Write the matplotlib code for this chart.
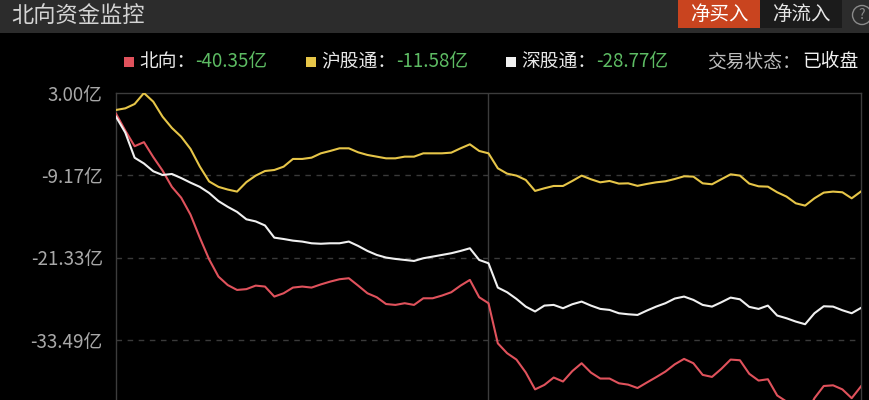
import matplotlib
matplotlib.use("Agg")
import matplotlib.pyplot as plt
from matplotlib.patches import Rectangle, Ellipse

plt.rcParams["font.family"] = ["Noto Sans CJK SC", "DejaVu Sans"]

W, H = 870, 400

# minutes since 9:30 on a 240-minute trading clock, sampled every 3 minutes
minutes = list(range(0, 241, 3))

# 沪股通 (yellow), 亿元
hgt = [0.45, 0.69, 1.33, 2.95, 1.68, -0.54, -2.2, -3.5, -5.3, -7.9,
       -10.1, -10.9, -11.3, -11.6, -10.2, -9.24, -8.56, -8.41, -7.92, -6.78,
       -6.78, -6.59, -5.95, -5.60, -5.21, -5.21, -5.80, -6.19, -6.44, -6.69,
       -6.69, -6.44, -6.44, -5.95, -5.95, -5.95, -5.85, -5.21, -4.62, -5.60,
       -5.95, -8.16, -8.95, -9.24, -9.88, -11.5, -11.11, -10.77, -10.77, -10.03,
       -9.24, -9.78, -10.23, -10.03, -10.42, -10.38, -10.75, -10.47, -10.23, -10.08,
       -9.74, -9.34, -9.39, -10.38, -10.52, -9.78, -9.05, -9.24, -10.42, -10.82,
       -10.87, -11.7, -12.34, -13.33, -13.67, -12.59, -11.75, -11.6, -11.7, -12.59,
       -11.58]

# 深股通 (white)
sgt = [-0.54, -2.9, -6.6, -7.45, -8.6, -9.15, -9.0, -9.6, -10.28, -10.9,
       -11.8, -13.0, -13.85, -14.6, -15.69, -16.0, -16.6, -18.4, -18.6, -18.84,
       -18.98, -19.23, -19.3, -19.23, -19.23, -18.98, -19.62, -20.36, -20.95, -21.34,
       -21.54, -21.69, -21.84, -21.44, -21.2, -20.95, -20.7, -20.36, -19.97, -21.69,
       -22.18, -25.77, -26.46, -27.44, -28.58, -29.3, -28.43, -28.33, -28.82, -28.23,
       -27.84, -28.43, -28.92, -29.07, -29.56, -29.71, -29.81, -29.17, -28.58, -28.08,
       -27.39, -27.1, -27.59, -28.33, -28.58, -27.94, -27.25, -27.5, -28.62, -28.92,
       -28.43, -29.9, -30.3, -30.79, -31.18, -29.56, -28.53, -28.58, -29.12, -29.56,
       -28.77]

# 北向 (red)
north = [-0.1, -2.6, -4.9, -4.3, -6.5, -8.5, -10.9, -12.5, -15.0, -18.4,
         -21.6, -24.15, -25.4, -26.12, -26.0, -25.48, -25.62, -27.1, -26.61, -25.77,
         -25.62, -25.77, -25.3, -24.89, -24.54, -24.39, -25.48, -26.61, -27.2, -28.2,
         -28.33, -28.08, -28.33, -27.35, -27.35, -26.95, -26.46, -25.48, -24.64, -27.2,
         -28.08, -34.0, -35.46, -36.4, -38.3, -40.8, -40.14, -39.05, -39.64, -38.1,
         -36.94, -38.32, -39.2, -39.2, -39.9, -40.1, -40.6, -39.79, -39.0, -38.17,
         -37.1, -36.3, -36.94, -38.66, -38.96, -37.77, -36.4, -36.5, -38.5, -39.5,
         -39.3, -41.7, -42.6, -44.0, -44.8, -42.1, -40.3, -40.2, -40.8, -42.1,
         -40.35]

yticks = [3.00, -9.17, -21.33, -33.49]
ytick_labels = ["3.00亿", "-9.17亿", "-21.33亿", "-33.49亿"]
y_bottom = -45.66  # next tick step, below the visible area

legend_names = ["北向：", "沪股通：", "深股通："]
legend_values = ["-40.35亿", "-11.58亿", "-28.77亿"]

RED = "#e0525c"
YELLOW = "#e6c548"
WHITE = "#f0f0f0"
GREEN = "#5dbb63"


def fx(x):
    return x / W


def fy(y):
    return 1 - y / H


fig = plt.figure(figsize=(W / 100, H / 100), dpi=100, facecolor="#000000")

# header bar
fig.patches.append(Rectangle((0, fy(33)), 1, 33 / H, transform=fig.transFigure,
                             facecolor="#2c2c2c", edgecolor="none", zorder=0))
fig.text(fx(11), fy(16), "北向资金监控", color="#d4d4d4", fontsize=16,
         va="center", ha="left")

# buttons
fig.patches.append(Rectangle((fx(678), fy(28)), 82 / W, 28 / H, transform=fig.transFigure,
                             facecolor="#c9441f", edgecolor="none", zorder=1))
fig.text(fx(719), fy(14), "净买入", color="#ffffff", fontsize=14, ha="center", va="center")
fig.patches.append(Rectangle((fx(760), fy(28)), 82 / W, 28 / H, transform=fig.transFigure,
                             facecolor="#1b1b1b", edgecolor="none", zorder=1))
fig.text(fx(801), fy(14), "净流入", color="#e6e6e6", fontsize=14, ha="center", va="center")
fig.patches.append(Ellipse((fx(862), fy(15)), 19 / W, 19 / H, transform=fig.transFigure,
                           facecolor="none", edgecolor="#8a8a8a", lw=1, zorder=1))
fig.text(fx(862), fy(15), "?", color="#8a8a8a", fontsize=10, ha="center", va="center")

# legend row
renderer = fig.canvas.get_renderer()
legend_x = [124, 306, 506]
for x0, color, name, val in zip(legend_x, [RED, YELLOW, WHITE], legend_names, legend_values):
    fig.patches.append(Rectangle((fx(x0), fy(67)), 10 / W, 10 / H, transform=fig.transFigure,
                                 facecolor=color, edgecolor="none"))
    t = fig.text(fx(x0 + 15), fy(62), name, color="#e8e8e8", fontsize=13.5,
                 ha="left", va="center")
    bb = t.get_window_extent(renderer)
    fig.text(bb.x1 / W, fy(62), val, color=GREEN, fontsize=13.5, ha="left", va="center")

t = fig.text(fx(707), fy(62), "交易状态：", color="#bdbdbd", fontsize=13.5, ha="left", va="center")
bb = t.get_window_extent(renderer)
fig.text(bb.x1 / W + 2 / W, fy(62), "已收盘", color="#f2f2f2", fontsize=13.5,
         ha="left", va="center")

# plot area: top at y=92.7px, 82.4px per tick step, bottom runs past the image
top_px = 92.7
step_px = 82.4
ax = fig.add_axes([fx(116), fy(top_px + 4 * step_px), 745 / W, 4 * step_px / H])
ax.set_facecolor("#000000")
ax.set_xlim(0, 240)
ax.set_ylim(y_bottom, yticks[0])

for s in ["left", "top", "right"]:
    ax.spines[s].set_color("#3c3c3c")
    ax.spines[s].set_linewidth(1)
ax.spines["bottom"].set_visible(False)

for v in yticks[1:]:
    ax.axhline(v, color="#3a3a3a", lw=1, ls=(0, (4, 4)), zorder=1)
ax.axvline(120, color="#3c3c3c", lw=1, zorder=1)

ax.set_xticks([])
ax.set_yticks(yticks)
ax.set_yticklabels(ytick_labels)
ax.tick_params(axis="y", length=0, pad=9.5, labelsize=13.5, labelcolor="#a8a8a8")

ax.plot(minutes, north, color=RED, lw=1.5, zorder=3)
ax.plot(minutes, hgt, color=YELLOW, lw=1.5, zorder=4)
ax.plot(minutes, sgt, color=WHITE, lw=1.5, zorder=5)

fig.savefig("out.png", dpi=100, facecolor=fig.get_facecolor())
